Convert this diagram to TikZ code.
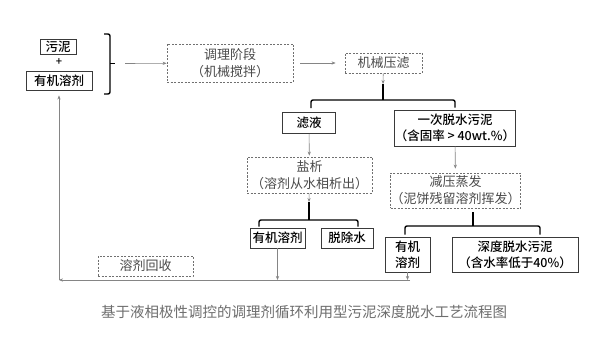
\documentclass[tikz,border=0pt]{standalone}
\usepackage{fontspec}
\usepackage{xcolor}
\usepackage{tikz}
\usetikzlibrary{arrows.meta,positioning,calc}
\newfontfamily\cjk[BoldFont={Noto Sans CJK SC Medium}]{Noto Sans CJK SC}
\definecolor{boxgray}{HTML}{3A3A3A}
\definecolor{dashgray}{HTML}{707070}
\definecolor{txtgray}{HTML}{4A4A4A}
\definecolor{linegray}{HTML}{858585}
\definecolor{capgray}{HTML}{6E6E6E}
\tikzset{
  solidbox/.style={rectangle, draw=boxgray, line width=0.9pt, fill=white, align=center, inner sep=0pt, font=\cjk\bfseries\fontsize{12.5}{16}\selectfont},
  dashbox/.style={rectangle, draw=dashgray, dash pattern=on 2pt off 1.5pt, line width=0.8pt, align=center, inner sep=0pt, text=txtgray, font=\cjk\fontsize{13}{17}\selectfont},
  flowarrow/.style={-{Stealth[length=4pt,width=3.2pt]}, linegray, line width=0.6pt},
  flowbrack/.style={black, line width=1.4pt, rounded corners=2pt}
}
\begin{document}
\begin{tikzpicture}[x=1pt, y=-1pt]
\fill[white] (0,0) rectangle (599,339);
\useasboundingbox (0,0) rectangle (599,339);
% inputs
\node[solidbox, minimum width=36pt, minimum height=15pt] (sludge) at (58,46.5) {污泥};
\node[font=\cjk\bfseries\fontsize{11}{11}\selectfont] (plus) at (59,62) {+};
\node[solidbox, minimum width=66pt, minimum height=19pt] (solvA) at (59,80.5) {有机溶剂};
\coordinate (braceTip) at (125,63.5);
\draw[flowbrack] (104,34) -- (110,34) -- (110,94) -- (104,94);
\draw[black, line width=1.4pt] (110,63.5) -- (115,63.5);
% conditioning and pressing
\node[dashbox, minimum width=126pt, minimum height=38pt] (cond) at (230,63) {调理阶段\\（机械搅拌）};
\node[dashbox, minimum width=77pt, minimum height=20pt] (press) at (383.5,63) {机械压滤};
\draw[flowarrow] (braceTip) -- (cond);
\draw[flowarrow, shorten <=7pt, shorten >=9pt] (cond) -- (press);
\node[solidbox, minimum width=53pt, minimum height=21pt] (filtrate) at (309,123) {滤液};
\node[solidbox, minimum width=120pt, minimum height=36pt] (cake1) at (455,128) {一次脱水污泥\\（含固率 > 40wt.\%）};
\coordinate (pressA) at (383,84);
\coordinate (pressJ) at (383,100);
\draw[flowarrow] (press) -- (pressA);
\draw[flowbrack] (pressA) -- (pressJ);
\draw[flowbrack, shorten <=4pt, shorten >=2pt] ([xshift=2pt]filtrate.north) |- (pressJ) -| (cake1.north);
% filtrate branch
\node[dashbox, minimum width=125pt, minimum height=36pt] (salt) at (309.5,175) {盐析\\（溶剂从水相析出）};
\draw[flowarrow, shorten >=1pt] (filtrate) -- (salt);
\node[solidbox, minimum width=55pt, minimum height=20pt] (solvB) at (277.5,238) {有机溶剂};
\node[solidbox, minimum width=52pt, minimum height=20pt] (water) at (347,238) {脱除水};
\coordinate (saltA) at (309,202);
\coordinate (saltJ) at (309,220);
\draw[flowarrow] (salt) -- (saltA);
\draw[flowbrack] (saltA) -- (saltJ);
\draw[flowbrack, shorten <=1pt, shorten >=1pt] ([xshift=-18.5pt]solvB.north) |- (saltJ) -| ([xshift=11pt]water.north);
% cake branch
\node[dashbox, minimum width=125pt, minimum height=35pt] (evap) at (455.5,190.5) {减压蒸发\\（泥饼残留溶剂挥发）};
\draw[flowarrow, shorten >=4pt] (cake1) -- (evap);
\node[solidbox, minimum width=45pt, minimum height=35pt] (solvC) at (407.5,254.5) {有机\\溶剂};
\node[solidbox, minimum width=126pt, minimum height=35pt] (cake2) at (515,254.5) {深度脱水污泥\\（含水率低于40\%）};
\coordinate (evapA) at (473,212);
\coordinate (evapJ) at (473,226);
\draw[flowbrack] (evapA) -- (evapJ);
\draw[flowbrack, shorten <=2pt, shorten >=2pt] ([xshift=-2.5pt]solvC.north) |- (evapJ) -| ([xshift=25pt]cake2.north);
% solvent recycle
\node[dashbox, minimum width=95pt, minimum height=20pt] (recov) at (145.5,266) {溶剂回收};
\coordinate (loopR) at (410,280);
\coordinate (loopL) at (59,280);
\draw[flowarrow] (solvC.south) -- (solvC.south |- loopR);
\draw[flowarrow] (solvB.south) -- (solvB.south |- loopL);
\draw[flowarrow] (loopR) -- (loopL);
\draw[flowarrow, shorten >=5pt] (loopL) -- (solvA.south);
% caption
\node[text=capgray, font=\cjk\fontsize{14.5}{16}\selectfont] (caption) at (304,312) {基于液相极性调控的调理剂循环利用型污泥深度脱水工艺流程图};
\end{tikzpicture}
\end{document}
